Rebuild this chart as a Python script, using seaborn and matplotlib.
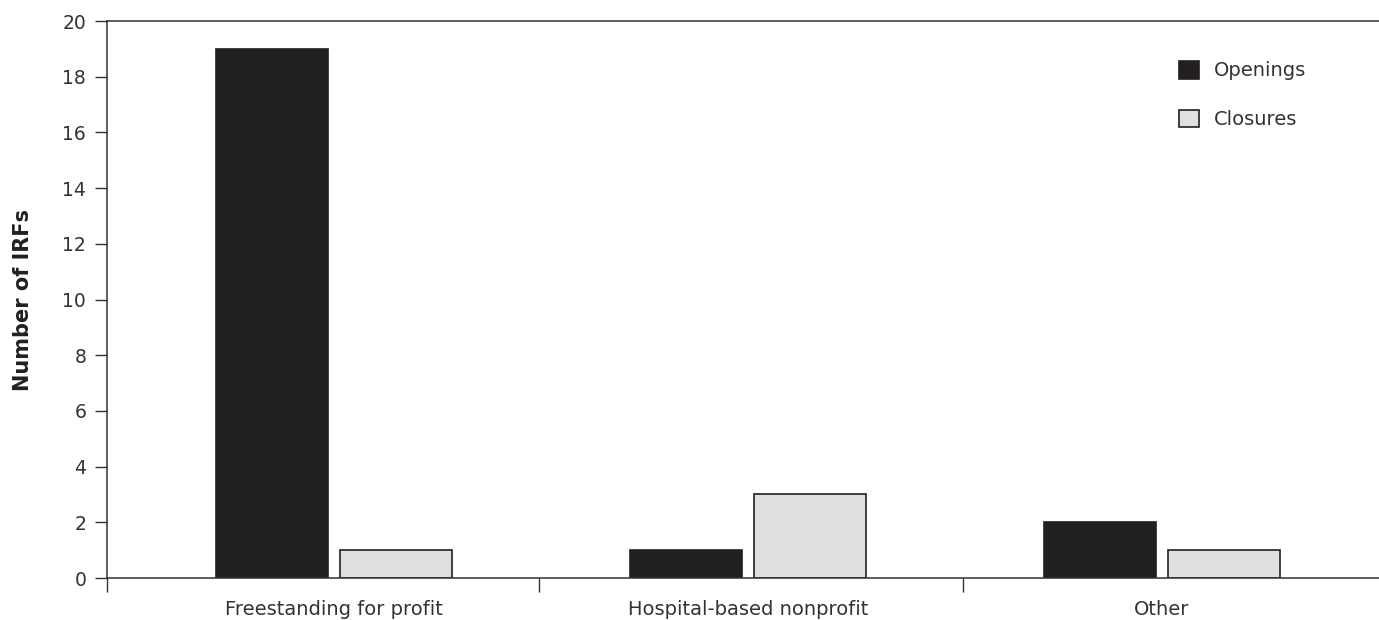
import matplotlib
matplotlib.use('Agg')
import matplotlib.pyplot as plt
import seaborn as sns
import pandas as pd

# values
categories = ['Freestanding for profit', 'Hospital-based nonprofit', 'Other']
openings = [19, 1, 2]
closures = [1, 3, 1]
series = ['Openings', 'Closures']
y_ticks = list(range(0, 21, 2))

DARK = '#231f20'
LIGHT = '#dfe0e1'
TEXT = '#333333'

df = pd.DataFrame({
    'type': categories * 2,
    'status': [series[0]] * 3 + [series[1]] * 3,
    'count': openings + closures,
})

sns.set_style('white')
plt.rcParams['font.family'] = ['DejaVu Sans']

fig = plt.figure(figsize=(13.79, 6.2), dpi=100)
ax = fig.add_axes([0.0776, 0.0677, 0.9224, 0.8984])

sns.barplot(data=df, x='type', y='count', hue='status', order=categories,
            hue_order=series, palette=[DARK, LIGHT], width=0.6, gap=0.1,
            edgecolor=DARK, linewidth=1.2, ax=ax)

ax.set_xlim(-0.548, 2.524)
ax.set_ylim(0, 20)
ax.set_yticks(y_ticks)
ax.set_xticks(range(len(categories)))
ax.set_xticklabels(categories)
# separators between the groups, slightly off-centre as in the original
ax.set_xticks([-0.548, 0.495, 1.52], minor=True)

ax.tick_params(axis='y', which='major', left=True, length=9, width=1,
               color=TEXT, labelsize=13.5, labelcolor=TEXT, pad=6)
ax.tick_params(axis='x', which='major', bottom=False, labelsize=14,
               labelcolor=TEXT, pad=12)
ax.tick_params(axis='x', which='minor', bottom=True, length=10, width=1,
               color=TEXT)

for s in ['left', 'top', 'bottom']:
    ax.spines[s].set_visible(True)
    ax.spines[s].set_color(TEXT)
    ax.spines[s].set_linewidth(1.1)
ax.spines['right'].set_visible(False)

ax.set_xlabel('')
ax.set_ylabel('Number of IRFs', fontsize=15, fontweight='bold',
              color=DARK, labelpad=21)

ax.legend(loc='upper left', bbox_to_anchor=(0.843, 0.928), frameon=False,
          fontsize=14, handlelength=1.0, handleheight=1.0, labelspacing=1.5,
          handletextpad=0.8, borderpad=0, borderaxespad=0, labelcolor=TEXT)

fig.savefig('out.png', dpi=100)
